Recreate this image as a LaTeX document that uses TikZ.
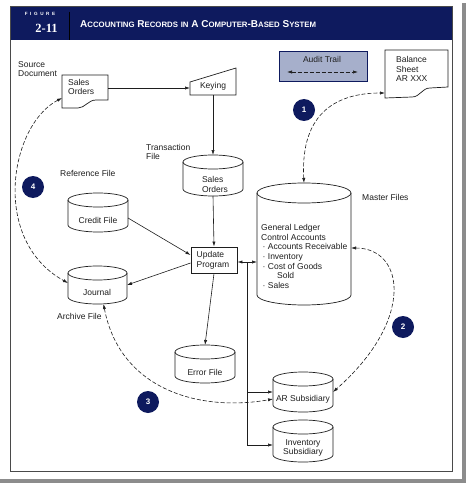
\documentclass[tikz,border=0pt]{standalone}
\usepackage{fontspec}
\setmainfont{Liberation Sans}
\newfontfamily\serifb{Liberation Serif}
\usetikzlibrary{arrows.meta,calc}
\definecolor{navy}{HTML}{0E1A5E}
\definecolor{audit}{HTML}{A6AFCB}
\definecolor{ink}{HTML}{1E1E1E}
\definecolor{framec}{HTML}{4A4A4A}
\definecolor{shadowc}{HTML}{8C8C8C}
% cylinder: name, x0, y0, x1, y1, ry
\newcommand\cylshape[6]{%
  \node[anchorbox, minimum width={#4-#2}, minimum height={#5-#3}] (#1) at ({(#2+#4)/2},{(#3+#5)/2}) {};
  \draw[shp] (#2,#3+#6) -- (#2,#5-#6) arc[start angle=180, end angle=0, x radius={(#4-#2)/2}, y radius=#6] -- (#4,#3+#6);
  \draw[shp] ({(#2+#4)/2},#3+#6) ellipse[x radius={(#4-#2)/2}, y radius=#6];
}
\newcommand\hsc[2]{{\fontsize{10}{10}\selectfont #1}{\fontsize{7.8}{7.8}\selectfont #2}}
\begin{document}
\begin{tikzpicture}[x=1pt,y=-1pt,
  shp/.style={draw=ink, line width=0.7pt},
  anchorbox/.style={rectangle, inner sep=0pt, outer sep=0pt, draw=none},
  txt/.style={font=\fontsize{8.5}{9.6}\selectfont, text=ink, inner sep=0pt},
  arr/.style={draw=ink, line width=0.6pt, -{Latex[length=5pt,width=3.2pt]}},
  biarr/.style={draw=ink, line width=0.6pt, {Latex[length=5pt,width=3.2pt]}-{Latex[length=5pt,width=3.2pt]}},
  plain/.style={draw=ink, line width=0.6pt},
  dasharr/.style={draw=ink, line width=0.6pt, dash pattern=on 4pt off 2pt, {Latex[length=5pt,width=3.2pt]}-{Latex[length=5pt,width=3.2pt]}},
  badge/.style={circle, fill=navy, minimum size=22pt, inner sep=0pt, text=white, font=\fontsize{8}{8}\selectfont\bfseries},
]
\useasboundingbox (0,0) rectangle (467,484);
\fill[white] (0,0) rectangle (467,484);
% shadow frame
\draw[shadowc, line width=3.5pt] (0,481) -- (464,481) -- (464,3);
% header
\fill[navy] (10,7) rectangle (452,40);
\draw[black, line width=0.9pt] (69,12) -- (69,40);
\node[inner sep=0pt, text=white, font=\fontsize{4.6}{5}\selectfont\bfseries] (figw) at (40,14) {F\hspace{2.6pt}I\hspace{2.6pt}G\hspace{2.6pt}U\hspace{2.6pt}R\hspace{2.6pt}E};
\node[inner sep=0pt, text=white, font=\serifb\fontsize{12.5}{12.5}\selectfont\bfseries] (fignum) at (46.5,28) {2-11};
\node[inner sep=0pt, text=white, anchor=west, font=\bfseries] (title) at (80,24) {\hsc{A}{CCOUNTING} \hsc{R}{ECORDS} {\fontsize{7.8}{7.8}\selectfont IN} \hsc{A}{} \hsc{C}{OMPUTER}-\hsc{B}{ASED} \hsc{S}{YSTEM}};
% frame
\draw[framec, line width=1pt] (10,7) rectangle (452,471);

% source document
\node[anchorbox, minimum width=46, minimum height=33] (so) at (85,91.5) {};
\draw[shp] (62,75) -- (108,75) -- (108,100) -- (96,100) .. controls (88,100) and (85,108) .. (78,108) -- (62,108) -- cycle;
\node[txt, align=left, anchor=west] (soT) at (68,87) {Sales\\Orders};
\node[txt, align=left, anchor=west] (srcL) at (18,69) {Source\\Document};

% keying
\node[anchorbox, minimum width=46, minimum height=27] (key) at (213,81.5) {};
\draw[shp] (190,82) -- (236,68) -- (236,95) -- (190,95) -- cycle;
\node[txt] (keyT) at (213,86) {Keying};

% transaction file
\cylshape{socyl}{183}{155}{243}{196}{7}
\node[txt, align=left] (socylT) at (215,184.5) {Sales\\Orders};
\node[txt, align=left, anchor=west] (trL) at (146,152) {Transaction\\File};

% reference file
\node[txt, anchor=west] (refL) at (60,173) {Reference File};
\cylshape{credit}{68}{193}{128}{232}{7}
\node[txt] (creditT) at (98,220) {Credit File};

% update program
\node[draw=ink, line width=0.9pt, minimum width=46, minimum height=26, inner sep=0pt] (update) at (214,260) {};
\node[txt, align=left, anchor=west] (updateT) at (196.5,260) {Update\\Program};

% journal
\cylshape{journal}{68}{266}{127}{304}{7}
\node[txt] (journalT) at (97,292) {Journal};
\node[txt, anchor=west] (archL) at (57,316) {Archive File};

% error file
\cylshape{err}{175}{345}{235}{383}{7}
\node[txt] (errT) at (205,372) {Error File};

% master files
\cylshape{master}{257}{183}{351}{305}{10}
\node[txt, anchor=west] (masterL) at (362,197) {Master Files};
\node[txt, align=left, anchor=west] (masterT) at (261,256.5) {General Ledger\\Control Accounts\\\hspace*{1.5pt}· Accounts Receivable\\\hspace*{1.5pt}· Inventory\\\hspace*{1.5pt}· Cost of Goods\\\hspace*{16pt}Sold\\\hspace*{1.5pt}· Sales};

% subsidiaries
\cylshape{arsub}{273}{372}{333}{412}{7}
\node[txt] (arsubT) at (303,399) {AR Subsidiary};
\cylshape{invsub}{273}{420}{333}{462}{7}
\node[txt, align=center] (invsubT) at (303,448) {Inventory\\Subsidiary};

% audit trail
\node[draw=navy, fill=audit, line width=0.8pt, minimum width=88, minimum height=30, inner sep=0pt] (audit) at (323,66) {};
\node[txt] (auditT) at (322,59.5) {Audit Trail};
\coordinate (atl) at (287,72);
\coordinate (atr) at (358,72);
\draw[dasharr] (atl) -- (atr);

% balance sheet
\node[anchorbox, minimum width=63, minimum height=48] (bal) at (416.5,74) {};
\draw[shp] (385,50) -- (448,50) -- (448,87) -- (430,88) .. controls (422,88) and (420,97) .. (412,97) -- (385,98) -- cycle;
\node[txt, align=left, anchor=west] (balT) at (396,69) {Balance\\Sheet\\AR XXX};

% solid connectors
\draw[arr] ([yshift=3.5pt]so.east) -- ([yshift=3.5pt]so.east -| key.west);
\draw[arr] (key.south) -- (socyl.north);
\draw[arr] (socyl.south) -- (update.north);
\draw[arr] ([yshift=-5.5pt]credit.east) -- ([yshift=5pt]update.west);
\draw[arr] ([yshift=-3pt]update.west) -- (journal.east);
\draw[arr] (update.south) -- (err.north);
\coordinate (bus) at (247,262);
\draw[biarr] (update.east |- bus) -- (master.west |- bus);
\draw[plain] (bus) -- (bus |- 0,445);
\draw[arr] (bus |- arsub.west) -- (arsub.west);
\draw[arr] (bus |- 0,445) -- ([yshift=-4pt]invsub.west);

% dashed audit-trail connectors
\draw[dasharr] ([yshift=-6.5pt]so.west) .. controls (10,125) and (-10,240) .. ([yshift=2pt]journal.west);
\draw[dasharr] ([xshift=6pt]journal.south) .. controls (120,390) and (200,412) .. ([yshift=-7pt]arsub.west);
\draw[dasharr] (master.north) .. controls (300,110) and (340,93) .. ([yshift=-19pt]bal.west);
\draw[dasharr] ([yshift=-4pt]master.east) .. controls (405,248) and (415,320) .. (arsub.east);

% badges
\node[badge] (b1) at (304,110) {1};
\node[badge] (b2) at (403,327) {2};
\node[badge] (b3) at (148,402) {3};
\node[badge] (b4) at (33,187) {4};
\end{tikzpicture}
\end{document}
